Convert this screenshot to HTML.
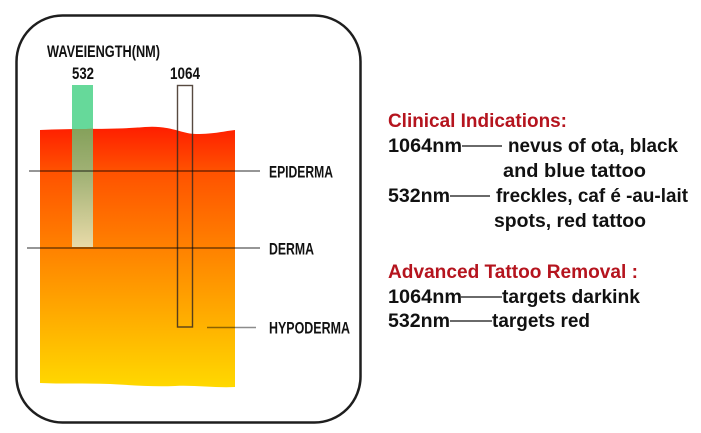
<!DOCTYPE html>
<html><head><meta charset="utf-8"><style>
html,body{margin:0;padding:0;background:#fff;}
svg{display:block;}
text{font-family:"Liberation Sans",sans-serif;font-weight:bold;}
</style></head><body>
<svg width="701" height="433" viewBox="0 0 701 433" xmlns="http://www.w3.org/2000/svg">
<defs>
<linearGradient id="skin" x1="0" y1="127" x2="0" y2="388" gradientUnits="userSpaceOnUse">
<stop offset="0" stop-color="#ff1e00"/>
<stop offset="0.17" stop-color="#ff5200"/>
<stop offset="0.45" stop-color="#ff7f00"/>
<stop offset="0.75" stop-color="#ffb000"/>
<stop offset="1" stop-color="#ffd900"/>
</linearGradient>
<linearGradient id="bar" x1="0" y1="127" x2="0" y2="247" gradientUnits="userSpaceOnUse">
<stop offset="0" stop-color="#84a05a"/>
<stop offset="0.4" stop-color="#a2b276"/>
<stop offset="1" stop-color="#e8daa8"/>
</linearGradient>
<clipPath id="skinclip"><path d="M40,130 C80,128 110,130 145,127 C170,125 182,134 196,134 C215,134 225,131 235,130 L235,387 C215,388 195,385 175,386 C150,387 130,385 110,384 C85,383 60,384 40,383 Z"/></clipPath>
</defs>
<rect x="16.5" y="15.5" width="344" height="407" rx="46" ry="46" fill="#fff" stroke="#1e1e1e" stroke-width="2.5"/>
<rect x="72" y="85" width="21" height="60" fill="#66d99a"/>
<path d="M40,130 C80,128 110,130 145,127 C170,125 182,134 196,134 C215,134 225,131 235,130 L235,387 C215,388 195,385 175,386 C150,387 130,385 110,384 C85,383 60,384 40,383 Z" fill="url(#skin)"/>
<rect x="72" y="120" width="21" height="127" fill="url(#bar)" clip-path="url(#skinclip)"/>
<rect x="177.5" y="85.5" width="15" height="241.5" fill="none" stroke="#3a2a20" stroke-opacity="0.85" stroke-width="1.4"/>
<line x1="29" y1="171" x2="260" y2="171" stroke="#000" stroke-opacity="0.55" stroke-width="1.5"/>
<line x1="27" y1="248" x2="260" y2="248" stroke="#000" stroke-opacity="0.55" stroke-width="1.5"/>
<line x1="207" y1="327.5" x2="256" y2="327.5" stroke="#000" stroke-opacity="0.45" stroke-width="1.5"/>
<text x="47" y="57" font-size="16.5" textLength="113" lengthAdjust="spacingAndGlyphs" fill="#111">WAVEIENGTH(NM)</text>
<text x="72" y="79" font-size="16.5" textLength="22" lengthAdjust="spacingAndGlyphs" fill="#111">532</text>
<text x="170" y="79" font-size="16.5" textLength="30" lengthAdjust="spacingAndGlyphs" fill="#111">1064</text>
<text x="269" y="177.5" font-size="16.5" textLength="64" lengthAdjust="spacingAndGlyphs" fill="#111">EPIDERMA</text>
<text x="269" y="254.5" font-size="16.5" textLength="45" lengthAdjust="spacingAndGlyphs" fill="#111">DERMA</text>
<text x="269" y="333.5" font-size="16.5" textLength="81" lengthAdjust="spacingAndGlyphs" fill="#111">HYPODERMA</text>
<text x="388" y="127" font-size="19" textLength="179" lengthAdjust="spacingAndGlyphs" fill="#b5141e">Clinical Indications:</text>
<text x="388" y="152" font-size="19" textLength="74" lengthAdjust="spacingAndGlyphs" fill="#111">1064nm</text>
<line x1="462" y1="146" x2="502" y2="146" stroke="#111" stroke-width="1.3"/>
<text x="508" y="152" font-size="19" textLength="170" lengthAdjust="spacingAndGlyphs" fill="#111">nevus of ota, black</text>
<text x="503" y="177" font-size="19" textLength="143" lengthAdjust="spacingAndGlyphs" fill="#111">and blue tattoo</text>
<text x="388" y="202" font-size="19" textLength="62" lengthAdjust="spacingAndGlyphs" fill="#111">532nm</text>
<line x1="450" y1="196" x2="490" y2="196" stroke="#111" stroke-width="1.3"/>
<text x="496" y="202" font-size="19" textLength="192" lengthAdjust="spacingAndGlyphs" fill="#111">freckles, caf é -au-lait</text>
<text x="494" y="227" font-size="19" textLength="152" lengthAdjust="spacingAndGlyphs" fill="#111">spots, red tattoo</text>
<text x="388" y="278" font-size="19" textLength="250" lengthAdjust="spacingAndGlyphs" fill="#b5141e">Advanced Tattoo Removal :</text>
<text x="388" y="303" font-size="19" textLength="74" lengthAdjust="spacingAndGlyphs" fill="#111">1064nm</text>
<line x1="461" y1="297" x2="502" y2="297" stroke="#111" stroke-width="1.3"/>
<text x="502" y="303" font-size="19" textLength="138" lengthAdjust="spacingAndGlyphs" fill="#111">targets darkink</text>
<text x="388" y="327" font-size="19" textLength="62" lengthAdjust="spacingAndGlyphs" fill="#111">532nm</text>
<line x1="450" y1="321" x2="492" y2="321" stroke="#111" stroke-width="1.3"/>
<text x="492" y="327" font-size="19" textLength="98" lengthAdjust="spacingAndGlyphs" fill="#111">targets red</text>
</svg>
</body></html>
